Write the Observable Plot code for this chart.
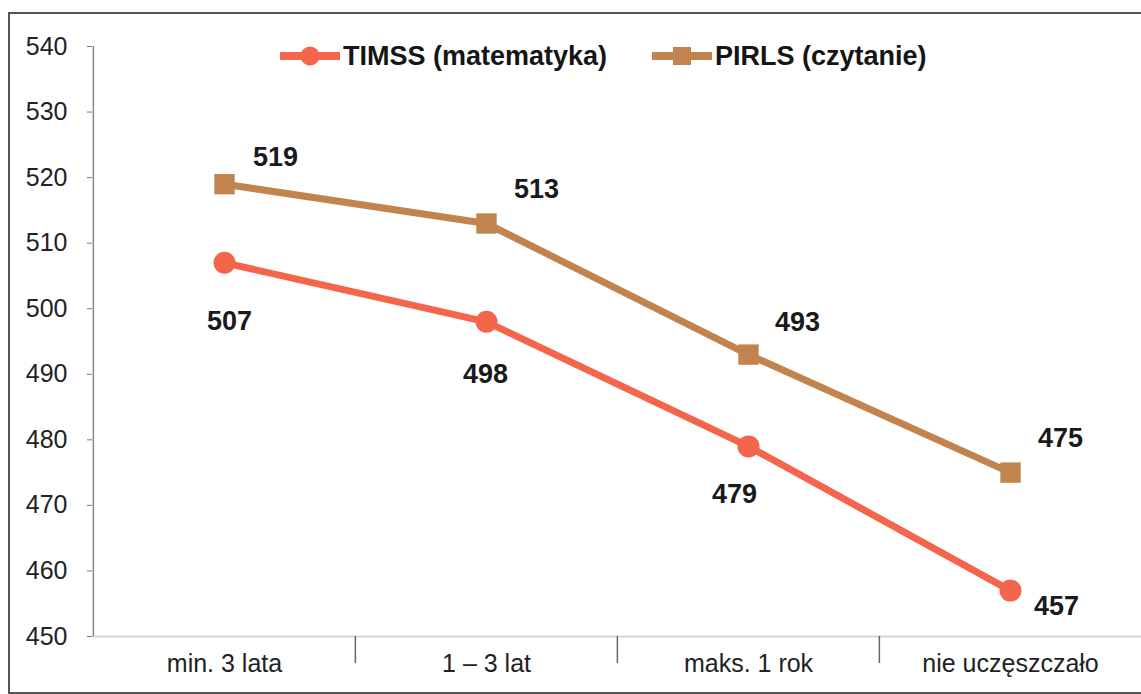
<!DOCTYPE html>
<html>
<head>
<meta charset="utf-8">
<script src="https://cdn.jsdelivr.net/npm/d3@7"></script>
<script src="https://cdn.jsdelivr.net/npm/@observablehq/plot@0.6"></script>
<style>
  html, body { margin: 0; padding: 0; background: #fff; }
  #wrap { position: relative; width: 1141px; height: 694px; overflow: hidden; }
  #border { position: absolute; left: 8px; top: 12px; width: 1140px; height: 682px;
            border: 2px solid #555; box-sizing: border-box; pointer-events: none; }
  .item { position: absolute; top: 41px; display: flex; align-items: center; gap: 3px; height: 30px; line-height: 30px;
          font-family: "Liberation Sans", Arial, sans-serif; font-weight: bold; font-size: 27px; color: #151515; white-space: nowrap; }
</style>
</head>
<body>
<div id="wrap">
  <div id="chart"></div>
  <div id="legend"></div>
  <div id="border"></div>
</div>
<script>
const categories = ["min. 3 lata", "1 – 3 lat", "maks. 1 rok", "nie uczęszczało"];
const seriesNames = ["TIMSS (matematyka)", "PIRLS (czytanie)"];
const timssValues = [507, 498, 479, 457];
const pirlsValues = [519, 513, 493, 475];
const yTicks = [450, 460, 470, 480, 490, 500, 510, 520, 530, 540];

const colors = { timss: "#f4664b", pirls: "#c1844f" };
// label offsets (pixels) per point
const timssLabelOffsets = [[5, 59], [-1, 53], [-14, 48], [46, 16]];
const pirlsLabelOffsets = [[51, -27], [50, -34], [49, -32], [50, -34]];

const timss = categories.map((c, i) => ({ cat: c, value: timssValues[i], dx: timssLabelOffsets[i][0], dy: timssLabelOffsets[i][1] }));
const pirls = categories.map((c, i) => ({ cat: c, value: pirlsValues[i], dx: pirlsLabelOffsets[i][0], dy: pirlsLabelOffsets[i][1] }));

const W = 1141, H = 694, mL = 92, mR = 0;
const step = (W - mL - mR) / categories.length;

const labelMarks = (data) => data.map(d =>
  Plot.text([d], { x: "cat", y: "value", text: d => String(d.value), dx: d.dx, dy: d.dy,
    fontSize: 27, fontWeight: "bold", fill: "#1a1a1a" }));

const chart = Plot.plot({
  width: W,
  height: H,
  marginLeft: mL,
  marginRight: mR,
  marginTop: 46,
  marginBottom: 58,
  style: { fontFamily: "Liberation Sans, Arial, sans-serif", background: "transparent" },
  x: { type: "band", domain: categories, padding: 0 },
  y: { domain: [450, 540], ticks: yTicks },
  marks: [
    Plot.ruleY([450], { stroke: "#d6d6d6", strokeWidth: 2 }),
    Plot.axisY({ ticks: yTicks, tickSize: 5, tickPadding: 20, fontSize: 25, stroke: "#777", fill: "#222", label: null }),
    Plot.ruleX([540], { x: () => categories[0], y1: 450, y2: 540, dx: -step / 2, stroke: "#888", strokeWidth: 1.5 }),
    Plot.axisX({ ticks: categories.slice(1), dx: -step / 2, tickSize: 27, tickPadding: 0, text: null, stroke: "#666", strokeWidth: 1.5, label: null }),
    Plot.axisX({ tickSize: 0, tickPadding: 18, fontSize: 25, fill: "#222", label: null }),
    Plot.line(pirls, { x: "cat", y: "value", stroke: colors.pirls, strokeWidth: 7 }),
    Plot.dot(pirls, { x: "cat", y: "value", symbol: "square", r: 11.5, fill: colors.pirls }),
    Plot.line(timss, { x: "cat", y: "value", stroke: colors.timss, strokeWidth: 7 }),
    Plot.dot(timss, { x: "cat", y: "value", symbol: "circle", r: 11, fill: colors.timss }),
    ...labelMarks(timss),
    ...labelMarks(pirls)
  ]
});
document.getElementById("chart").appendChild(chart);

// legend
const legend = document.getElementById("legend");
const swatch = (color, shape) => {
  const marker = shape === "circle"
    ? `<circle cx="30" cy="15" r="9.5" fill="${color}"/>`
    : `<rect x="21" y="6" width="18" height="18" fill="${color}"/>`;
  return `<svg width="60" height="30"><line x1="0" y1="15" x2="60" y2="15" stroke="${color}" stroke-width="8"/>${marker}</svg>`;
};
legend.innerHTML =
  `<div class="item" style="left:280px">${swatch(colors.timss, "circle")}<span>${seriesNames[0]}</span></div>` +
  `<div class="item" style="left:652px">${swatch(colors.pirls, "square")}<span>${seriesNames[1]}</span></div>`;
</script>
</body>
</html>
